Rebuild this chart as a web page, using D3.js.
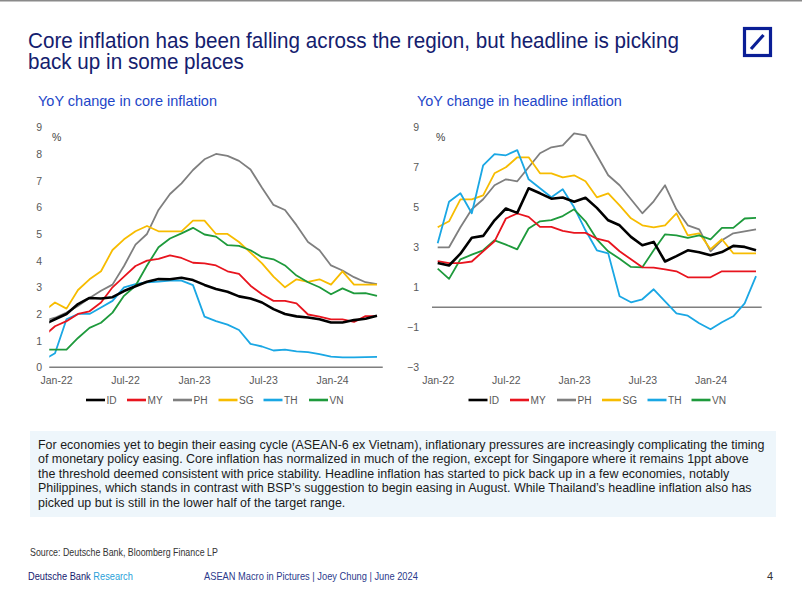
<!DOCTYPE html>
<html>
<head>
<meta charset="utf-8">
<script src="https://cdn.jsdelivr.net/npm/d3@7"></script>
<style>
  html, body { margin: 0; padding: 0; background: #fff; }
  svg { display: block; }
</style>
</head>
<body>
<svg id="chart" width="802" height="602"></svg>
<script>
// ---------------- DATA ----------------
const countries = ["ID", "MY", "PH", "SG", "TH", "VN"];
const colors = ["#000000", "#e8141e", "#7f7f7f", "#f7bc00", "#1aa7e4", "#1e9a3c"];

// Core inflation: months Dec-21 .. May-24 (first point partly outside the plot)
const coreStart = -1; // Dec-21 relative to Jan-22
const coreID = [1.6, 1.8, 2.0, 2.37, 2.6, 2.58, 2.63, 2.86, 3.04, 3.21, 3.31, 3.3, 3.36, 3.27, 3.09, 2.94, 2.83, 2.66, 2.58, 2.43, 2.18, 2.0, 1.91, 1.87, 1.8, 1.68, 1.68, 1.77, 1.82, 1.93];
const coreMY = [1.16, 1.54, 1.73, 2.0, 2.1, 2.43, 3.0, 3.4, 3.8, 4.0, 4.07, 4.2, 4.1, 3.92, 3.9, 3.82, 3.6, 3.5, 3.06, 2.74, 2.49, 2.49, 2.4, 1.98, 1.9, 1.8, 1.8, 1.7, 1.92, 1.92];
const corePH = [1.74, 1.86, 2.05, 2.3, 2.6, 2.87, 3.1, 3.8, 4.6, 5.0, 5.9, 6.5, 6.9, 7.4, 7.8, 8.0, 7.93, 7.74, 7.42, 6.73, 6.09, 5.9, 5.33, 4.7, 4.39, 3.82, 3.63, 3.38, 3.19, 3.12];
const coreSG = [2.1, 2.43, 2.2, 2.9, 3.3, 3.6, 4.4, 4.8, 5.1, 5.3, 5.1, 5.1, 5.1, 5.5, 5.5, 5.0, 5.0, 4.7, 4.3, 3.9, 3.4, 3.0, 3.3, 3.2, 3.3, 3.1, 3.6, 3.1, 3.1, 3.1];
const coreTH = [0.27, 0.53, 1.8, 2.0, 2.0, 2.24, 2.49, 3.0, 3.12, 3.19, 3.21, 3.25, 3.25, 3.08, 1.9, 1.73, 1.6, 1.4, 0.88, 0.78, 0.63, 0.66, 0.6, 0.57, 0.49, 0.4, 0.37, 0.37, 0.38, 0.39];
const coreVN = [0.66, 0.66, 0.66, 1.1, 1.48, 1.67, 2.05, 2.68, 3.06, 3.82, 4.5, 4.83, 5.02, 5.23, 4.98, 4.9, 4.58, 4.55, 4.39, 4.13, 4.05, 3.82, 3.44, 3.19, 3.0, 2.74, 2.96, 2.77, 2.78, 2.68];

// Headline inflation: months Jan-22 .. May-24
const headStart = 0;
const headID = [2.21, 2.09, 2.68, 3.48, 3.57, 4.35, 4.94, 4.72, 5.95, 5.7, 5.43, 5.49, 5.28, 5.48, 4.97, 4.35, 4.1, 3.52, 3.1, 3.27, 2.29, 2.56, 2.85, 2.75, 2.6, 2.76, 3.07, 3.02, 2.85];
const headMY = [2.31, 2.21, 2.21, 2.29, 2.8, 3.3, 4.44, 4.69, 4.52, 4.02, 4.02, 3.82, 3.72, 3.72, 3.43, 3.3, 2.8, 2.4, 2.0, 1.98, 1.9, 1.8, 1.5, 1.5, 1.5, 1.8, 1.8, 1.8, 1.8];
const headPH = [3.0, 3.0, 4.0, 4.9, 5.4, 6.1, 6.4, 6.3, 7.0, 7.7, 8.0, 8.1, 8.7, 8.6, 7.6, 6.6, 6.1, 5.4, 4.7, 5.3, 6.1, 4.9, 4.1, 3.9, 2.8, 3.35, 3.7, 3.8, 3.9];
const headSG = [4.0, 4.3, 5.4, 5.4, 5.6, 6.7, 7.0, 7.5, 7.5, 6.7, 6.7, 6.5, 6.6, 6.3, 5.5, 5.7, 5.1, 4.45, 4.1, 4.0, 4.1, 4.7, 3.6, 3.7, 2.9, 3.4, 2.7, 2.7, 2.7];
const headTH = [3.2, 5.28, 5.7, 4.7, 7.1, 7.66, 7.6, 7.86, 6.4, 5.95, 5.5, 5.9, 5.0, 3.85, 2.85, 2.7, 0.55, 0.25, 0.4, 0.9, 0.3, -0.3, -0.42, -0.8, -1.1, -0.75, -0.45, 0.2, 1.56];
const headVN = [1.93, 1.42, 2.4, 2.63, 2.85, 3.35, 3.13, 2.9, 3.94, 4.3, 4.36, 4.56, 4.9, 4.3, 3.4, 2.8, 2.43, 2.02, 2.0, 2.85, 3.65, 3.6, 3.47, 3.6, 3.4, 3.97, 3.97, 4.44, 4.47];

// Tick labels (month index from Jan-22)
const xTickIdx = [0, 6, 12, 18, 24];
const xTickLabels = ["Jan-22", "Jul-22", "Jan-23", "Jul-23", "Jan-24"];
const coreYTicks = [0, 1, 2, 3, 4, 5, 6, 7, 8, 9];
const headYTicks = [-3, -1, 1, 3, 5, 7, 9];

// Texts
const titleLines = ["Core inflation has been falling across the region, but headline is picking", "back up in some places"];
const coreTitle = "YoY change in core inflation";
const headTitle = "YoY change in headline inflation";
const bodyLines = [
  "For economies yet to begin their easing cycle (ASEAN-6 ex Vietnam), inflationary pressures are increasingly complicating the timing",
  "of monetary policy easing. Core inflation has normalized in much of the region, except for Singapore where it remains 1ppt above",
  "the threshold deemed consistent with price stability. Headline inflation has started to pick back up in a few economies, notably",
  "Philippines, which stands in contrast with BSP\u2019s suggestion to begin easing in August. While Thailand\u2019s headline inflation also has",
  "picked up but is still in the lower half of the target range."
];
const sourceText = "Source: Deutsche Bank, Bloomberg Finance LP";
const footerCenter = "ASEAN Macro in Pictures | Joey Chung | June 2024";
const pageNo = "4";

// ---------------- DRAW ----------------
const SANS = "'Liberation Sans', Arial, sans-serif";
const svg = d3.select("#chart");

// squeeze a block of text lines horizontally so the reference line gets the target width
function squeezeBlock(sel, x0, refNode, targetW) {
  const w = refNode.getComputedTextLength();
  const sx = Math.min(1.1, targetW / w);
  sel.attr("x", 0).attr("transform", function () {
    return `translate(${x0},0) scale(${sx},1)`;
  });
}

svg.append("rect").attr("x", 0).attr("y", 0).attr("width", 802).attr("height", 1.5).attr("fill", "#8a8a8a");

// Title
const tSel = svg.append("g").selectAll("text").data(titleLines).join("text")
  .attr("y", (d, i) => 48 + i * 21)
  .attr("font-family", SANS).attr("font-size", 21.5).attr("fill", "#14206e")
  .text(d => d);
squeezeBlock(tSel, 28, tSel.nodes()[0], 651);

// Logo
const logo = svg.append("g");
logo.append("rect").attr("x", 744.5).attr("y", 28.5).attr("width", 26).attr("height", 27)
  .attr("fill", "none").attr("stroke", "#0a1e96").attr("stroke-width", 3.2);
logo.append("line").attr("x1", 751).attr("y1", 49).attr("x2", 763.5).attr("y2", 35)
  .attr("stroke", "#0a1e96").attr("stroke-width", 3.2);

function drawChart(cfg) {
  const g = svg.append("g");
  const x = d3.scaleLinear().domain([-0.5, 28.5]).range(cfg.xRange);
  const y = d3.scaleLinear().domain(cfg.yDomain).range(cfg.yRange);

  // subtitle
  const st = g.append("text").attr("y", 106)
    .attr("font-family", SANS).attr("font-size", 14.5).attr("fill", "#1e46c8")
    .text(cfg.title);
  squeezeBlock(st, cfg.titleX, st.node(), cfg.titleW);

  // y axis labels
  const ya = g.append("g").attr("transform", `translate(${cfg.yLabelX},0)`)
    .call(d3.axisLeft(y).tickValues(cfg.yTicks).tickSize(0).tickPadding(0).tickFormat(d3.format("d")));
  ya.select(".domain").remove();
  ya.selectAll("text").attr("font-family", SANS).attr("font-size", 10.5).attr("fill", "#595959");

  // x axis labels
  const xa = g.append("g").attr("transform", `translate(${cfg.xLabelShift},377)`)
    .call(d3.axisBottom(x).tickValues(xTickIdx).tickSize(0).tickPadding(0).tickFormat((d, i) => xTickLabels[i]));
  xa.select(".domain").remove();
  xa.selectAll("text").attr("font-family", SANS).attr("font-size", 10.5).attr("fill", "#595959");

  // percent sign
  g.append("text").attr("x", cfg.pctX).attr("y", 141)
    .attr("font-family", SANS).attr("font-size", 10.5).attr("fill", "#404040").text("%");

  // baseline
  g.append("line").attr("x1", x(-0.5)).attr("x2", x(28.5))
    .attr("y1", y(cfg.baseVal)).attr("y2", y(cfg.baseVal))
    .attr("stroke", "#7f7f7f").attr("stroke-width", 1.5);

  // clip
  const clipId = "clip" + cfg.id;
  g.append("clipPath").attr("id", clipId).append("rect")
    .attr("x", x(-0.5)).attr("y", 100).attr("width", x(28.5) - x(-0.5)).attr("height", 300);

  const line = d3.line().x(d => x(d.i)).y(d => y(d.v));
  const order = [2, 3, 4, 5, 1, 0]; // draw black on top
  const lg = g.append("g").attr("clip-path", `url(#${clipId})`);
  order.forEach(k => {
    const pts = cfg.series[k].map((v, j) => ({ i: cfg.start + j, v }));
    lg.append("path").datum(pts).attr("d", line)
      .attr("fill", "none").attr("stroke", colors[k])
      .attr("stroke-width", k === 0 ? 2.6 : 1.8)
      .attr("stroke-linejoin", "round");
  });

  // legend
  const leg = g.append("g").attr("transform", `translate(0,400)`);
  countries.forEach((c, k) => {
    const lx = cfg.legendX[k];
    leg.append("line").attr("x1", lx).attr("x2", lx + 19).attr("y1", 0).attr("y2", 0)
      .attr("stroke", colors[k]).attr("stroke-width", 2.6);
    const t = leg.append("text").attr("y", 4)
      .attr("font-family", SANS).attr("font-size", 11.5).attr("fill", "#595959").text(c);
    t.attr("transform", `translate(${lx + 20.5},0) scale(0.88,1)`);
  });
}

drawChart({
  id: "core", title: coreTitle, titleX: 38, titleW: 179,
  xRange: [49.25, 382.75], yDomain: [0, 9], yRange: [367.3, 127.3],
  yTicks: coreYTicks, yLabelX: 42, xLabelShift: 1, pctX: 52, baseVal: 0,
  start: coreStart,
  series: [coreID, coreMY, corePH, coreSG, coreTH, coreVN],
  legendX: [86, 127, 173, 218.5, 263.5, 309]
});

drawChart({
  id: "head", title: headTitle, titleX: 417, titleW: 205,
  xRange: [432.0, 761.7], yDomain: [-3, 9], yRange: [367.3, 127.3],
  yTicks: headYTicks, yLabelX: 419, xLabelShift: 0, pctX: 436, baseVal: 0,
  start: headStart,
  series: [headID, headMY, headPH, headSG, headTH, headVN],
  legendX: [468.5, 510, 557, 602, 647.5, 691.5]
});

// Commentary box
svg.append("rect").attr("x", 30).attr("y", 431).attr("width", 746).attr("height", 86).attr("fill", "#eef6fb");
const bSel = svg.append("g").selectAll("text").data(bodyLines).join("text")
  .attr("y", (d, i) => 449 + i * 14.5)
  .attr("font-family", SANS).attr("font-size", 13.2).attr("fill", "#1a1a1a")
  .text(d => d);
squeezeBlock(bSel, 38, bSel.nodes()[0], 726);

// Source and footer
const src = svg.append("text").attr("y", 556).attr("font-family", SANS).attr("font-size", 10.5)
  .attr("fill", "#333").text(sourceText);
squeezeBlock(src, 30, src.node(), 188);
const ft = svg.append("text").attr("y", 580).attr("font-family", SANS).attr("font-size", 11);
ft.append("tspan").attr("fill", "#14206e").text("Deutsche Bank ");
ft.append("tspan").attr("fill", "#2a9fd8").text("Research");
squeezeBlock(ft, 28, ft.node(), 105);
const fc = svg.append("text").attr("y", 580).attr("font-family", SANS).attr("font-size", 11)
  .attr("fill", "#2b3a8c").text(footerCenter);
squeezeBlock(fc, 204, fc.node(), 214);
svg.append("text").attr("x", 773).attr("y", 580).attr("text-anchor", "end").attr("font-family", SANS).attr("font-size", 11)
  .attr("fill", "#333").text(pageNo);
</script>
</body>
</html>
